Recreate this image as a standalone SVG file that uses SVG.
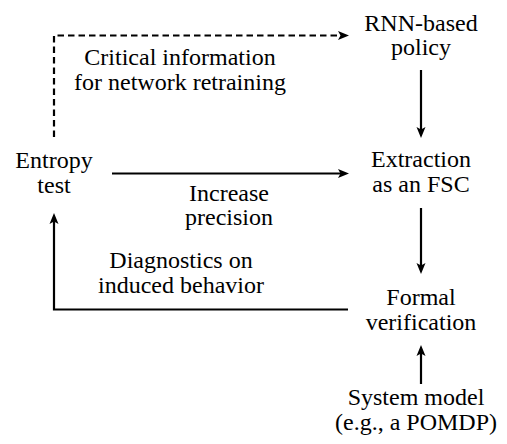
<svg xmlns="http://www.w3.org/2000/svg" width="507" height="444" viewBox="0 0 507 444">
<style>
text{font-family:'Liberation Serif','DejaVu Serif',serif;font-size:24px;fill:#000;text-anchor:middle}
.c{fill:none;stroke:#000;stroke-width:2.2}
.d{stroke-dasharray:6.5,4}
</style>
<defs>
<marker id="ah" markerUnits="userSpaceOnUse" markerWidth="12" markerHeight="10" refX="4" refY="4.5" orient="auto" viewBox="0 0 12 9">
<path d="M0,0 L11,4.5 L0,9 L2.5,4.5 Z" fill="#000"/>
</marker>
</defs>
<rect width="507" height="444" fill="#fff"/>
<g font-family="Liberation Serif, serif">
<g id="rnn"><text x="421" y="31">RNN-based</text><text x="421" y="55">policy</text></g>
<g id="extraction"><text x="421" y="167">Extraction</text><text x="421" y="192">as an FSC</text></g>
<g id="formal"><text x="421" y="305">Formal</text><text x="421" y="330">verification</text></g>
<g id="system"><text x="416" y="405">System model</text><text x="416" y="430">(e.g., a POMDP)</text></g>
<g id="entropy"><text x="54" y="168">Entropy</text><text x="54" y="193">test</text></g>
</g>
<g id="connectors">
<path class="c d" d="M54,137 V35.5 H342" marker-end="url(#ah)"/>
<path class="c" d="M421,70 V131" marker-end="url(#ah)"/>
<path class="c" d="M421,208 V267" marker-end="url(#ah)"/>
<path class="c" d="M421,384 V352" marker-end="url(#ah)"/>
<path class="c" d="M112,173.5 H342" marker-end="url(#ah)"/>
<path class="c" d="M348,309.5 H54 V220" marker-end="url(#ah)"/>
<text x="180" y="65">Critical information</text>
<text x="180" y="90">for network retraining</text>
<text x="229" y="201">Increase</text>
<text x="229" y="225">precision</text>
<text x="181" y="268">Diagnostics on</text>
<text x="181" y="293">induced behavior</text>
</g>
</svg>
